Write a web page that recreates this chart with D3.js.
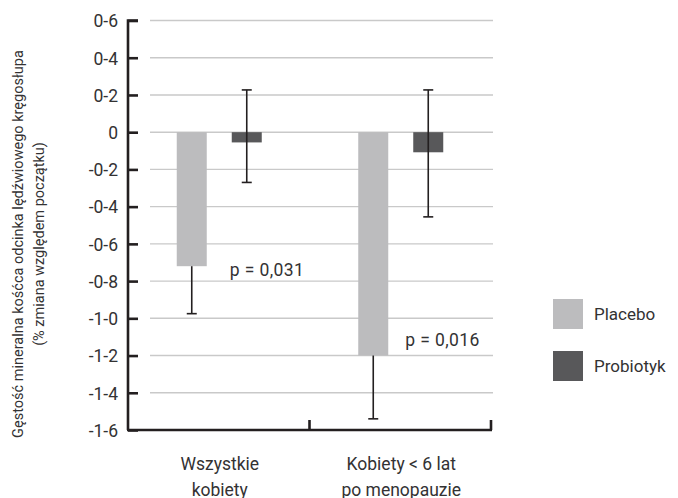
<!DOCTYPE html>
<html>
<head>
<meta charset="utf-8">
<script src="https://cdn.jsdelivr.net/npm/d3@7"></script>
<style>
  body { margin: 0; background: #fff; }
  text { font-family: Roboto, "DejaVu Sans", sans-serif; fill: #333233; font-weight: 400; }
</style>
</head>
<body>
<svg id="chart" width="678" height="498"></svg>
<script>
// chart data
const groups = ["Wszystkie kobiety", "Kobiety < 6 lat po menopauzie"];
const groupLines = [["Wszystkie", "kobiety"], ["Kobiety < 6 lat", "po menopauzie"]];
const seriesNames = ["Placebo", "Probiotyk"];
const placeboValues = [-0.72, -1.20];
const placeboErrLow = [-0.975, -1.54];
const placeboErrHigh = [-0.72, -1.20];
const probiotykValues = [-0.055, -0.108];
const probiotykErrLow = [-0.27, -0.455];
const probiotykErrHigh = [0.227, 0.227];
const pValues = ["p = 0,031", "p = 0,016"];
const tickValues = [0.6, 0.4, 0.2, 0, -0.2, -0.4, -0.6, -0.8, -1.0, -1.2, -1.4, -1.6];
const tickLabels = ["0-6", "0-4", "0-2", "0", "-0-2", "-0-4", "-0-6", "-0-8", "-1-0", "-1-2", "-1-4", "-1-6"];

const colors = { Placebo: "#bcbcbe", Probiotyk: "#58585a" };
const svg = d3.select("#chart");

const y = d3.scaleLinear().domain([-1.6, 0.6]).range([430, 20.5]);
const x0 = d3.scaleBand().domain(groups).range([128, 491]).paddingInner(0).paddingOuter(0);
const x1 = d3.scaleBand().domain(seriesNames)
  .range([x0.bandwidth() / 2 - 42, x0.bandwidth() / 2 + 43])
  .paddingInner(25 / 55);

// grid lines
svg.append("g").selectAll("line")
  .data(tickValues.filter(d => d > -1.6))
  .join("line")
  .attr("x1", 150).attr("x2", 493)
  .attr("y1", d => y(d)).attr("y2", d => y(d))
  .attr("stroke", "#c9c9c9").attr("stroke-width", 1.4);

// bars
const rows = groups.map((g, i) => [
  { g, s: "Placebo", v: placeboValues[i], lo: placeboErrLow[i], hi: placeboErrHigh[i] },
  { g, s: "Probiotyk", v: probiotykValues[i], lo: probiotykErrLow[i], hi: probiotykErrHigh[i] }
]).flat();

svg.append("g").selectAll("rect")
  .data(rows)
  .join("rect")
  .attr("x", d => x0(d.g) + x1(d.s))
  .attr("y", d => y(Math.max(0, d.v)))
  .attr("width", x1.bandwidth())
  .attr("height", d => Math.abs(y(d.v) - y(0)))
  .attr("fill", d => colors[d.s]);

// error bars
const eb = svg.append("g").attr("stroke", "#231f20").attr("stroke-width", 1.6);
rows.forEach(d => {
  const cx = x0(d.g) + x1(d.s) + x1.bandwidth() / 2;
  eb.append("line").attr("x1", cx).attr("x2", cx).attr("y1", y(d.hi)).attr("y2", y(d.lo));
  eb.append("line").attr("x1", cx - 5).attr("x2", cx + 5).attr("y1", y(d.lo)).attr("y2", y(d.lo));
  if (d.hi > d.v) {
    eb.append("line").attr("x1", cx - 5).attr("x2", cx + 5).attr("y1", y(d.hi)).attr("y2", y(d.hi));
  }
});

// y axis
const yAxis = d3.axisLeft(y).tickValues(tickValues).tickSize(-10)
  .tickFormat((d, i) => tickLabels[i]);
const yg = svg.append("g").attr("transform", "translate(128,0)").call(yAxis);
yg.select(".domain").attr("stroke", "#231f20").attr("stroke-width", 2.6)
  .attr("d", "M10," + y(0.6) + "H0V" + y(-1.6));
yg.selectAll(".tick line").attr("stroke", "#231f20").attr("stroke-width", 2.6);
yg.selectAll(".tick text").attr("font-size", 17.5).attr("font-family", null)
  .attr("fill", null).attr("x", -10).attr("dy", "0.36em");

// x axis line with group ticks
const xg = svg.append("g");
xg.append("line").attr("x1", 127).attr("x2", 492).attr("y1", 430).attr("y2", 430)
  .attr("stroke", "#231f20").attr("stroke-width", 2.6);
xg.selectAll(".gt").data(groups).join("line")
  .attr("class", "gt")
  .attr("x1", d => x0(d) + x0.bandwidth()).attr("x2", d => x0(d) + x0.bandwidth())
  .attr("y1", 430).attr("y2", 420)
  .attr("stroke", "#231f20").attr("stroke-width", 2.6);

// group labels
groups.forEach((g, i) => {
  const cx = x0(g) + x0.bandwidth() / 2 + 1;
  const t = svg.append("text").attr("text-anchor", "middle").attr("font-size", 17.5)
    .attr("x", cx).attr("y", 470);
  groupLines[i].forEach((line, k) => {
    t.append("tspan").attr("x", cx).attr("dy", k === 0 ? 0 : 26).text(line);
  });
});

// p-values: first sits below its placebo bar end, second above it
const pDx = [-2, -8];
const pDy = [9.5, -9.5];
pValues.forEach((p, i) => {
  const g = groups[i];
  svg.append("text").attr("font-size", 17.5).attr("letter-spacing", 0.4)
    .attr("x", x0(g) + x1("Probiotyk") + pDx[i])
    .attr("y", y(placeboValues[i]) + pDy[i])
    .text(p);
});

// y axis title
const title = svg.append("text").attr("text-anchor", "middle").attr("font-size", 14.5)
  .attr("transform", "translate(23,244) rotate(-90)");
title.append("tspan").attr("x", 0).attr("dy", 0).text("Gęstość mineralna kośćca odcinka lędźwiowego kręgosłupa");
title.append("tspan").attr("x", 0).attr("dy", 21).text("(% zmiana względem początku)");

// legend
const legend = svg.append("g").attr("transform", "translate(553,299)");
seriesNames.forEach((s, i) => {
  legend.append("rect").attr("x", 0).attr("y", i * 52).attr("width", 30).attr("height", 30).attr("fill", colors[s]);
  legend.append("text").attr("x", 41).attr("y", i * 52 + 21).attr("font-size", 17).text(s);
});
</script>
</body>
</html>
